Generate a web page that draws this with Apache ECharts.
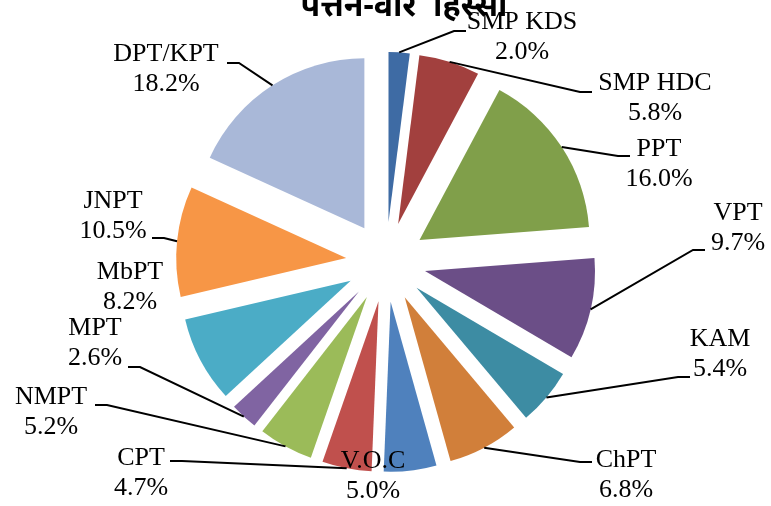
<!DOCTYPE html>
<html>
<head>
<meta charset="utf-8">
<script src="https://cdn.jsdelivr.net/npm/echarts@6/dist/echarts.min.js"></script>
<style>
  html, body { margin: 0; padding: 0; background: #fff; }
  #chart { width: 771px; height: 506px; }
</style>
</head>
<body>
<div id="chart"></div>
<script>
var ports = ['SMP KDS', 'SMP HDC', 'PPT', 'VPT', 'KAM', 'ChPT', 'V.O.C', 'CPT', 'NMPT', 'MPT', 'MbPT', 'JNPT', 'DPT/KPT'];
var shares = [2.0, 5.8, 16.0, 9.7, 5.4, 6.8, 5.0, 4.7, 5.2, 2.6, 8.2, 10.5, 18.2];
var colors = ['#3e6ba4', '#a2403e', '#809f4a', '#6b4e87', '#3d8ca3', '#d17f3a',
              '#4f81bd', '#c0504d', '#9bbb59', '#8064a2', '#4bacc6', '#f79646', '#a9b8d8'];

// where each label sits (text block centre) and where its leader line ends
var labelCenters = [[522, 37], [655, 98], [659, 164], [738, 228], [720, 354], [626, 475],
                    [373, 476], [141, 473], [51, 412], [95, 343], [130, 287], [113, 216], [166, 69]];
var lineEnds = [[466, 31], [592, 92], [630, 156], [705, 250], [690, 377], [592, 462],
                null, [170, 461], [95, 405], [128, 367], null, [152, 238], [227, 63]];

var CX = 386, CY = 262, R = 170, EXPLODE = 40;

var total = 0;
for (var i = 0; i < shares.length; i++) total += shares[i];
// mid angle of each slice (screen coords, clockwise from 12 o'clock)
var midAngles = [];
var acc = 0;
for (var i = 0; i < shares.length; i++) {
  midAngles.push(-Math.PI / 2 + 2 * Math.PI * (acc + shares[i] / 2) / total);
  acc += shares[i];
}

var pieData = [], labelData = [];
for (var i = 0; i < ports.length; i++) {
  pieData.push({
    name: ports[i],
    value: shares[i],
    selected: true,
    itemStyle: { color: colors[i] }
  });
  labelData.push({
    name: ports[i],
    value: shares[i],
    labelLine: { show: lineEnds[i] != null }
  });
}

var chart = echarts.init(document.getElementById('chart'));
chart.setOption({
  animation: false,
  title: {
    text: 'पत्तन-वार  हिस्सा',
    left: 399,
    textAlign: 'center',
    top: -14,
    textStyle: { fontSize: 32, fontWeight: 'bold', color: '#000', fontFamily: 'Noto Sans, sans-serif' }
  },
  series: [{
    // exploded slices
    type: 'pie',
    z: 2,
    center: [CX, CY],
    radius: R,
    startAngle: 90,
    selectedMode: 'multiple',
    selectedOffset: EXPLODE,
    label: { show: false },
    labelLine: { show: false },
    data: pieData
  }, {
    // same pie, invisible, only carries the labels
    type: 'pie',
    z: 5,
    center: [CX, CY],
    radius: R,
    startAngle: 90,
    silent: true,
    avoidLabelOverlap: false,
    itemStyle: { color: 'rgba(0,0,0,0)' },
    label: {
      show: true,
      position: 'outside',
      fontFamily: 'Liberation Serif, Times New Roman, serif',
      fontSize: 26,
      lineHeight: 30,
      color: '#000',
      formatter: function (p) { return p.name + '\n' + p.value.toFixed(1) + '%'; }
    },
    labelLine: {
      show: true,
      length: 20,
      length2: 30,
      lineStyle: { color: '#000', width: 2 }
    },
    labelLayout: function (p) {
      var i = p.dataIndex;
      var c = labelCenters[i];
      var e = lineEnds[i];
      var out = { x: c[0], y: c[1], align: 'center', verticalAlign: 'middle', hideOverlap: false };
      if (e) {
        var a = midAngles[i];
        var s = [CX + (R + EXPLODE) * Math.cos(a), CY + (R + EXPLODE) * Math.sin(a)];
        var elbow = [e[0] + (e[0] > CX ? -12 : 12), e[1]];
        out.labelLinePoints = [s, elbow, e];
      }
      return out;
    },
    data: labelData
  }]
});
</script>
</body>
</html>
